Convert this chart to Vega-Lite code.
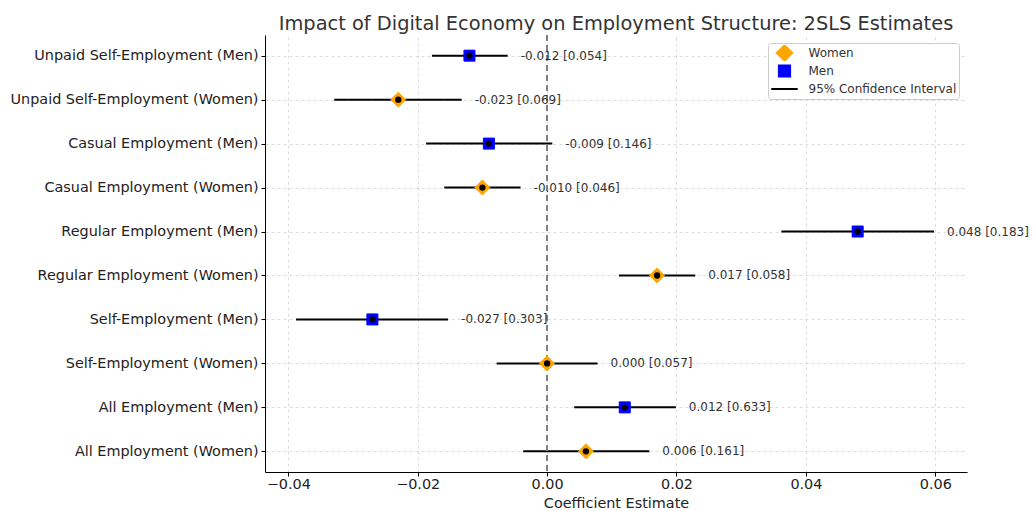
{
  "$schema": "https://vega.github.io/schema/vega-lite/v6.json",
  "autosize": {"type": "none"},
  "width": 702,
  "height": 437,
  "padding": {"left": 265, "top": 35, "right": 66, "bottom": 39},
  "background": "white",
  "title": {"text": "Impact of Digital Economy on Employment Structure: 2SLS Estimates", "fontSize": 19.4, "font": "DejaVu Sans", "fontWeight": "normal", "color": "#333333", "anchor": "middle", "offset": 0},
  "config": {
    "font": "DejaVu Sans",
    "view": {"stroke": null},
    "axis": {"domainColor": "#000000", "domainWidth": 1, "tickColor": "#000000", "tickSize": 4, "labelFontSize": 14.4, "labelColor": "#222222", "labelFont": "DejaVu Sans", "labelLimit": 400, "gridColor": "#d3d3d3", "gridDash": [3, 3], "gridWidth": 0.8, "titleFontSize": 14.4, "titleFontWeight": "normal", "titleColor": "#222222", "titleFont": "DejaVu Sans"},
    "legend": {"orient": "none", "legendX": 503, "legendY": 8, "padding": 2, "fillColor": "white", "strokeColor": "#cccccc", "cornerRadius": 3, "labelFontSize": 12, "labelColor": "#333333", "labelFont": "DejaVu Sans", "symbolOffset": 0, "labelOffset": 9.5, "rowPadding": 2, "clipHeight": 16, "symbolStrokeWidth": 2.2}
  },
  "data": {"values": [
    {"outcome": "Unpaid Self-Employment (Men)", "group": "Men", "coef": -0.012, "lo": -0.0178, "hi": -0.0061, "label": "-0.012 [0.054]"},
    {"outcome": "Unpaid Self-Employment (Women)", "group": "Women", "coef": -0.023, "lo": -0.0329, "hi": -0.0132, "label": "-0.023 [0.069]"},
    {"outcome": "Casual Employment (Men)", "group": "Men", "coef": -0.009, "lo": -0.0187, "hi": 0.0008, "label": "-0.009 [0.146]"},
    {"outcome": "Casual Employment (Women)", "group": "Women", "coef": -0.010, "lo": -0.0159, "hi": -0.0041, "label": "-0.010 [0.046]"},
    {"outcome": "Regular Employment (Men)", "group": "Men", "coef": 0.048, "lo": 0.0362, "hi": 0.0598, "label": "0.048 [0.183]"},
    {"outcome": "Regular Employment (Women)", "group": "Women", "coef": 0.017, "lo": 0.0111, "hi": 0.0229, "label": "0.017 [0.058]"},
    {"outcome": "Self-Employment (Men)", "group": "Men", "coef": -0.027, "lo": -0.0388, "hi": -0.0153, "label": "-0.027 [0.303]"},
    {"outcome": "Self-Employment (Women)", "group": "Women", "coef": 0.000, "lo": -0.0078, "hi": 0.0078, "label": "0.000 [0.057]"},
    {"outcome": "All Employment (Men)", "group": "Men", "coef": 0.012, "lo": 0.0042, "hi": 0.0199, "label": "0.012 [0.633]"},
    {"outcome": "All Employment (Women)", "group": "Women", "coef": 0.006, "lo": -0.0037, "hi": 0.0158, "label": "0.006 [0.161]"}
  ]},
  "encoding": {
    "y": {"field": "outcome", "type": "nominal", "sort": null, "scale": {"type": "point", "padding": 0.47}, "axis": {"title": null, "grid": true, "labelPadding": 3}}
  },
  "layer": [
    {
      "mark": {"type": "rule", "color": "black", "strokeWidth": 2},
      "encoding": {
        "x": {"field": "lo", "type": "quantitative", "scale": {"domain": [-0.0436, 0.0649], "nice": false, "zero": false}, "axis": {"title": "Coefficient Estimate", "values": [-0.04, -0.02, 0, 0.02, 0.04, 0.06], "format": ".2f", "grid": true, "titlePadding": 6, "labelPadding": 1}},
        "x2": {"field": "hi"}
      }
    },
    {
      "mark": {"type": "rule", "color": "#808080", "strokeWidth": 1.5, "strokeDash": [6, 4]},
      "encoding": {"x": {"datum": 0}, "y": null}
    },
    {
      "mark": {"type": "point", "filled": true, "opacity": 1, "strokeWidth": 1},
      "encoding": {
        "x": {"field": "coef", "type": "quantitative"},
        "fill": {"field": "group", "type": "nominal", "scale": {"domain": ["Women", "Men", "95% Confidence Interval"], "range": ["#FFA500", "#0000FF", "#000000"]}, "legend": {"title": null}},
        "stroke": {"field": "group", "type": "nominal", "scale": {"domain": ["Women", "Men", "95% Confidence Interval"], "range": ["#FFA500", "#0000FF", "#000000"]}, "legend": {"title": null}},
        "shape": {"field": "group", "type": "nominal", "scale": {"domain": ["Women", "Men", "95% Confidence Interval"], "range": ["diamond", "square", "stroke"]}, "legend": {"title": null}},
        "size": {"field": "group", "type": "nominal", "scale": {"type": "ordinal", "domain": ["Women", "Men", "95% Confidence Interval"], "range": [225, 121, 700]}, "legend": {"title": null}}
      }
    },
    {
      "mark": {"type": "point", "filled": true, "color": "black", "shape": "circle", "size": 40, "opacity": 1},
      "encoding": {"x": {"field": "coef", "type": "quantitative"}}
    },
    {
      "mark": {"type": "text", "align": "left", "baseline": "middle", "dx": 13, "fontSize": 12, "color": "#333333", "font": "DejaVu Sans"},
      "encoding": {"x": {"field": "hi", "type": "quantitative"}, "text": {"field": "label"}}
    }
  ]
}
